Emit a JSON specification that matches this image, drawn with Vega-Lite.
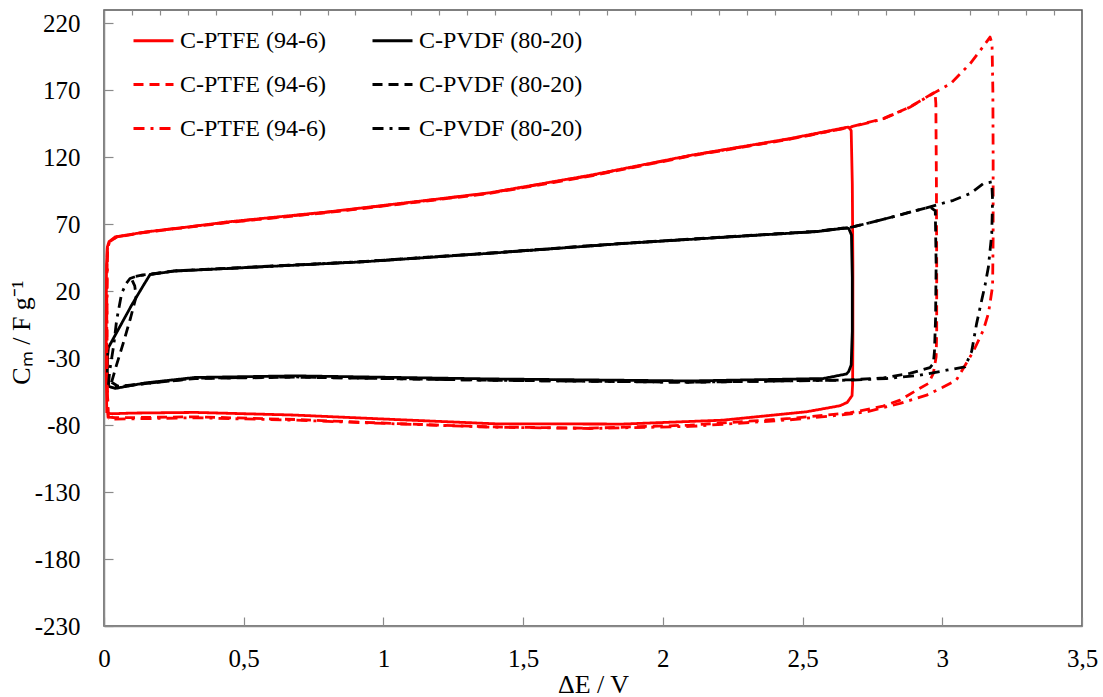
{
  "$schema": "https://vega.github.io/schema/vega-lite/v6.json",
  "autosize": {"type": "none"},
  "padding": {"left": 104, "top": 10, "right": 21, "bottom": 71},
  "width": 978,
  "height": 616,
  "config": {
    "font": "Liberation Serif, Times New Roman, serif",
    "view": {"stroke": "#555555", "strokeWidth": 1.5},
    "axis": {"grid": false, "domainColor": "#8a8a8a", "domainWidth": 1.5, "tickColor": "#8a8a8a", "tickWidth": 1.2, "labelColor": "#000000", "titleFontWeight": "normal", "titleColor": "#000000"}
  },
  "data": {"values": [
    {"s":"PTFE-2.7","i":0,"v":0.010,"c":-71},
    {"s":"PTFE-2.7","i":1,"v":0.008,"c":-40},
    {"s":"PTFE-2.7","i":2,"v":0.008,"c":0},
    {"s":"PTFE-2.7","i":3,"v":0.009,"c":40},
    {"s":"PTFE-2.7","i":4,"v":0.012,"c":53},
    {"s":"PTFE-2.7","i":5,"v":0.018,"c":57},
    {"s":"PTFE-2.7","i":6,"v":0.04,"c":60.5},
    {"s":"PTFE-2.7","i":7,"v":0.15,"c":64.3},
    {"s":"PTFE-2.7","i":8,"v":0.30,"c":68},
    {"s":"PTFE-2.7","i":9,"v":0.44,"c":71.7},
    {"s":"PTFE-2.7","i":10,"v":0.80,"c":79.2},
    {"s":"PTFE-2.7","i":11,"v":1.16,"c":88},
    {"s":"PTFE-2.7","i":12,"v":1.38,"c":93.5},
    {"s":"PTFE-2.7","i":13,"v":1.74,"c":106.6},
    {"s":"PTFE-2.7","i":14,"v":2.10,"c":121.5},
    {"s":"PTFE-2.7","i":15,"v":2.455,"c":134},
    {"s":"PTFE-2.7","i":16,"v":2.60,"c":140},
    {"s":"PTFE-2.7","i":17,"v":2.664,"c":142.6},
    {"s":"PTFE-2.7","i":18,"v":2.674,"c":140},
    {"s":"PTFE-2.7","i":19,"v":2.678,"c":100},
    {"s":"PTFE-2.7","i":20,"v":2.680,"c":40},
    {"s":"PTFE-2.7","i":21,"v":2.680,"c":-20},
    {"s":"PTFE-2.7","i":22,"v":2.679,"c":-50},
    {"s":"PTFE-2.7","i":23,"v":2.677,"c":-58},
    {"s":"PTFE-2.7","i":24,"v":2.66,"c":-63},
    {"s":"PTFE-2.7","i":25,"v":2.634,"c":-65.5},
    {"s":"PTFE-2.7","i":26,"v":2.515,"c":-70},
    {"s":"PTFE-2.7","i":27,"v":2.215,"c":-76.3},
    {"s":"PTFE-2.7","i":28,"v":1.857,"c":-79.2},
    {"s":"PTFE-2.7","i":29,"v":1.40,"c":-79},
    {"s":"PTFE-2.7","i":30,"v":1.04,"c":-75.8},
    {"s":"PTFE-2.7","i":31,"v":0.684,"c":-72.5},
    {"s":"PTFE-2.7","i":32,"v":0.326,"c":-70.5},
    {"s":"PTFE-2.7","i":33,"v":0.10,"c":-71},
    {"s":"PTFE-2.7","i":34,"v":0.03,"c":-71.5},
    {"s":"PTFE-2.7","i":35,"v":0.010,"c":-71},

    {"s":"PVDF-2.7","i":0,"v":0.016,"c":-51},
    {"s":"PVDF-2.7","i":1,"v":0.012,"c":-40},
    {"s":"PVDF-2.7","i":2,"v":0.013,"c":-28},
    {"s":"PVDF-2.7","i":3,"v":0.016,"c":-22},
    {"s":"PVDF-2.7","i":4,"v":0.05,"c":-9},
    {"s":"PVDF-2.7","i":5,"v":0.10,"c":10},
    {"s":"PVDF-2.7","i":6,"v":0.14,"c":24},
    {"s":"PVDF-2.7","i":7,"v":0.165,"c":32.5},
    {"s":"PVDF-2.7","i":8,"v":0.25,"c":35},
    {"s":"PVDF-2.7","i":9,"v":0.445,"c":37},
    {"s":"PVDF-2.7","i":10,"v":0.922,"c":41.9},
    {"s":"PVDF-2.7","i":11,"v":1.40,"c":48.6},
    {"s":"PVDF-2.7","i":12,"v":1.858,"c":55.6},
    {"s":"PVDF-2.7","i":13,"v":2.336,"c":61.8},
    {"s":"PVDF-2.7","i":14,"v":2.55,"c":64.5},
    {"s":"PVDF-2.7","i":15,"v":2.646,"c":67},
    {"s":"PVDF-2.7","i":16,"v":2.665,"c":67},
    {"s":"PVDF-2.7","i":17,"v":2.675,"c":62},
    {"s":"PVDF-2.7","i":18,"v":2.678,"c":30},
    {"s":"PVDF-2.7","i":19,"v":2.678,"c":-10},
    {"s":"PVDF-2.7","i":20,"v":2.674,"c":-35},
    {"s":"PVDF-2.7","i":21,"v":2.665,"c":-40},
    {"s":"PVDF-2.7","i":22,"v":2.657,"c":-41.8},
    {"s":"PVDF-2.7","i":23,"v":2.574,"c":-45.2},
    {"s":"PVDF-2.7","i":24,"v":2.097,"c":-47},
    {"s":"PVDF-2.7","i":25,"v":1.381,"c":-45.5},
    {"s":"PVDF-2.7","i":26,"v":0.684,"c":-43.2},
    {"s":"PVDF-2.7","i":27,"v":0.326,"c":-44.4},
    {"s":"PVDF-2.7","i":28,"v":0.147,"c":-48.5},
    {"s":"PVDF-2.7","i":29,"v":0.04,"c":-52.6},
    {"s":"PVDF-2.7","i":30,"v":0.016,"c":-51},

    {"s":"PTFE-3.0","i":0,"v":0.015,"c":-74},
    {"s":"PTFE-3.0","i":1,"v":0.010,"c":-40},
    {"s":"PTFE-3.0","i":2,"v":0.010,"c":20},
    {"s":"PTFE-3.0","i":3,"v":0.012,"c":52},
    {"s":"PTFE-3.0","i":4,"v":0.02,"c":57},
    {"s":"PTFE-3.0","i":5,"v":0.045,"c":60.5},
    {"s":"PTFE-3.0","i":6,"v":0.15,"c":64},
    {"s":"PTFE-3.0","i":7,"v":0.44,"c":71.2},
    {"s":"PTFE-3.0","i":8,"v":0.80,"c":78.7},
    {"s":"PTFE-3.0","i":9,"v":1.16,"c":87.5},
    {"s":"PTFE-3.0","i":10,"v":1.38,"c":93},
    {"s":"PTFE-3.0","i":11,"v":1.74,"c":106},
    {"s":"PTFE-3.0","i":12,"v":2.10,"c":121},
    {"s":"PTFE-3.0","i":13,"v":2.455,"c":133.5},
    {"s":"PTFE-3.0","i":14,"v":2.67,"c":142.6},
    {"s":"PTFE-3.0","i":15,"v":2.789,"c":148.9},
    {"s":"PTFE-3.0","i":16,"v":2.884,"c":157.6},
    {"s":"PTFE-3.0","i":17,"v":2.974,"c":168.7},
    {"s":"PTFE-3.0","i":18,"v":2.977,"c":160},
    {"s":"PTFE-3.0","i":19,"v":2.979,"c":100},
    {"s":"PTFE-3.0","i":20,"v":2.980,"c":40},
    {"s":"PTFE-3.0","i":21,"v":2.980,"c":-10},
    {"s":"PTFE-3.0","i":22,"v":2.978,"c":-29},
    {"s":"PTFE-3.0","i":23,"v":2.968,"c":-41.4},
    {"s":"PTFE-3.0","i":24,"v":2.95,"c":-48.9},
    {"s":"PTFE-3.0","i":25,"v":2.908,"c":-53.9},
    {"s":"PTFE-3.0","i":26,"v":2.849,"c":-61.3},
    {"s":"PTFE-3.0","i":27,"v":2.788,"c":-65.8},
    {"s":"PTFE-3.0","i":28,"v":2.67,"c":-70.8},
    {"s":"PTFE-3.0","i":29,"v":2.455,"c":-75},
    {"s":"PTFE-3.0","i":30,"v":2.097,"c":-80},
    {"s":"PTFE-3.0","i":31,"v":1.739,"c":-82.3},
    {"s":"PTFE-3.0","i":32,"v":1.381,"c":-81.3},
    {"s":"PTFE-3.0","i":33,"v":1.04,"c":-78.8},
    {"s":"PTFE-3.0","i":34,"v":0.684,"c":-75.8},
    {"s":"PTFE-3.0","i":35,"v":0.326,"c":-73.8},
    {"s":"PTFE-3.0","i":36,"v":0.04,"c":-74.5},
    {"s":"PTFE-3.0","i":37,"v":0.015,"c":-74},

    {"s":"PVDF-3.0","i":0,"v":0.027,"c":-48},
    {"s":"PVDF-3.0","i":1,"v":0.045,"c":-35},
    {"s":"PVDF-3.0","i":2,"v":0.07,"c":-18},
    {"s":"PVDF-3.0","i":3,"v":0.095,"c":0},
    {"s":"PVDF-3.0","i":4,"v":0.115,"c":16},
    {"s":"PVDF-3.0","i":5,"v":0.11,"c":24},
    {"s":"PVDF-3.0","i":6,"v":0.10,"c":28.5},
    {"s":"PVDF-3.0","i":7,"v":0.11,"c":31},
    {"s":"PVDF-3.0","i":8,"v":0.135,"c":32},
    {"s":"PVDF-3.0","i":9,"v":0.165,"c":32.7},
    {"s":"PVDF-3.0","i":10,"v":0.25,"c":35.2},
    {"s":"PVDF-3.0","i":11,"v":0.445,"c":37.2},
    {"s":"PVDF-3.0","i":12,"v":0.922,"c":42.1},
    {"s":"PVDF-3.0","i":13,"v":1.40,"c":48.8},
    {"s":"PVDF-3.0","i":14,"v":1.858,"c":55.8},
    {"s":"PVDF-3.0","i":15,"v":2.336,"c":62},
    {"s":"PVDF-3.0","i":16,"v":2.55,"c":64.7},
    {"s":"PVDF-3.0","i":17,"v":2.68,"c":68},
    {"s":"PVDF-3.0","i":18,"v":2.80,"c":74.3},
    {"s":"PVDF-3.0","i":19,"v":2.956,"c":83},
    {"s":"PVDF-3.0","i":20,"v":2.975,"c":80},
    {"s":"PVDF-3.0","i":21,"v":2.978,"c":40},
    {"s":"PVDF-3.0","i":22,"v":2.976,"c":0},
    {"s":"PVDF-3.0","i":23,"v":2.972,"c":-25},
    {"s":"PVDF-3.0","i":24,"v":2.968,"c":-34},
    {"s":"PVDF-3.0","i":25,"v":2.956,"c":-37},
    {"s":"PVDF-3.0","i":26,"v":2.884,"c":-41.4},
    {"s":"PVDF-3.0","i":27,"v":2.79,"c":-44.7},
    {"s":"PVDF-3.0","i":28,"v":2.67,"c":-46.2},
    {"s":"PVDF-3.0","i":29,"v":2.574,"c":-46.5},
    {"s":"PVDF-3.0","i":30,"v":2.097,"c":-48},
    {"s":"PVDF-3.0","i":31,"v":1.381,"c":-46.5},
    {"s":"PVDF-3.0","i":32,"v":0.684,"c":-44.2},
    {"s":"PVDF-3.0","i":33,"v":0.326,"c":-45.2},
    {"s":"PVDF-3.0","i":34,"v":0.147,"c":-49},
    {"s":"PVDF-3.0","i":35,"v":0.05,"c":-51},
    {"s":"PVDF-3.0","i":36,"v":0.027,"c":-48},

    {"s":"PTFE-3.2","i":0,"v":0.015,"c":-75},
    {"s":"PTFE-3.2","i":1,"v":0.011,"c":-40},
    {"s":"PTFE-3.2","i":2,"v":0.011,"c":20},
    {"s":"PTFE-3.2","i":3,"v":0.013,"c":52},
    {"s":"PTFE-3.2","i":4,"v":0.02,"c":57},
    {"s":"PTFE-3.2","i":5,"v":0.045,"c":60.5},
    {"s":"PTFE-3.2","i":6,"v":0.15,"c":64.2},
    {"s":"PTFE-3.2","i":7,"v":0.44,"c":71.5},
    {"s":"PTFE-3.2","i":8,"v":0.80,"c":79},
    {"s":"PTFE-3.2","i":9,"v":1.16,"c":87.8},
    {"s":"PTFE-3.2","i":10,"v":1.38,"c":93.3},
    {"s":"PTFE-3.2","i":11,"v":1.74,"c":106.3},
    {"s":"PTFE-3.2","i":12,"v":2.10,"c":121.3},
    {"s":"PTFE-3.2","i":13,"v":2.455,"c":133.8},
    {"s":"PTFE-3.2","i":14,"v":2.67,"c":142.4},
    {"s":"PTFE-3.2","i":15,"v":2.789,"c":148.7},
    {"s":"PTFE-3.2","i":16,"v":2.884,"c":157.4},
    {"s":"PTFE-3.2","i":17,"v":2.974,"c":168.5},
    {"s":"PTFE-3.2","i":18,"v":3.03,"c":175},
    {"s":"PTFE-3.2","i":19,"v":3.10,"c":190},
    {"s":"PTFE-3.2","i":20,"v":3.14,"c":201},
    {"s":"PTFE-3.2","i":21,"v":3.171,"c":209.8},
    {"s":"PTFE-3.2","i":22,"v":3.178,"c":205},
    {"s":"PTFE-3.2","i":23,"v":3.181,"c":170},
    {"s":"PTFE-3.2","i":24,"v":3.182,"c":120},
    {"s":"PTFE-3.2","i":25,"v":3.182,"c":60},
    {"s":"PTFE-3.2","i":26,"v":3.18,"c":23.7},
    {"s":"PTFE-3.2","i":27,"v":3.165,"c":3.3},
    {"s":"PTFE-3.2","i":28,"v":3.147,"c":-9},
    {"s":"PTFE-3.2","i":29,"v":3.111,"c":-25},
    {"s":"PTFE-3.2","i":30,"v":3.05,"c":-46.4},
    {"s":"PTFE-3.2","i":31,"v":3.0,"c":-51.9},
    {"s":"PTFE-3.2","i":32,"v":2.944,"c":-57.6},
    {"s":"PTFE-3.2","i":33,"v":2.849,"c":-63.8},
    {"s":"PTFE-3.2","i":34,"v":2.73,"c":-70},
    {"s":"PTFE-3.2","i":35,"v":2.634,"c":-72.5},
    {"s":"PTFE-3.2","i":36,"v":2.455,"c":-76},
    {"s":"PTFE-3.2","i":37,"v":2.097,"c":-81},
    {"s":"PTFE-3.2","i":38,"v":1.739,"c":-82.5},
    {"s":"PTFE-3.2","i":39,"v":1.381,"c":-81.5},
    {"s":"PTFE-3.2","i":40,"v":1.04,"c":-79},
    {"s":"PTFE-3.2","i":41,"v":0.684,"c":-76.3},
    {"s":"PTFE-3.2","i":42,"v":0.326,"c":-74.5},
    {"s":"PTFE-3.2","i":43,"v":0.04,"c":-75.5},
    {"s":"PTFE-3.2","i":44,"v":0.015,"c":-75},

    {"s":"PVDF-3.2","i":0,"v":0.016,"c":-50},
    {"s":"PVDF-3.2","i":1,"v":0.02,"c":-40},
    {"s":"PVDF-3.2","i":2,"v":0.035,"c":-20},
    {"s":"PVDF-3.2","i":3,"v":0.045,"c":-2},
    {"s":"PVDF-3.2","i":4,"v":0.063,"c":18.3},
    {"s":"PVDF-3.2","i":5,"v":0.08,"c":26},
    {"s":"PVDF-3.2","i":6,"v":0.093,"c":29.5},
    {"s":"PVDF-3.2","i":7,"v":0.12,"c":31.5},
    {"s":"PVDF-3.2","i":8,"v":0.14,"c":32},
    {"s":"PVDF-3.2","i":9,"v":0.165,"c":32.6},
    {"s":"PVDF-3.2","i":10,"v":0.25,"c":35.1},
    {"s":"PVDF-3.2","i":11,"v":0.445,"c":37.1},
    {"s":"PVDF-3.2","i":12,"v":0.922,"c":42},
    {"s":"PVDF-3.2","i":13,"v":1.40,"c":48.7},
    {"s":"PVDF-3.2","i":14,"v":1.858,"c":55.7},
    {"s":"PVDF-3.2","i":15,"v":2.336,"c":61.9},
    {"s":"PVDF-3.2","i":16,"v":2.55,"c":64.6},
    {"s":"PVDF-3.2","i":17,"v":2.68,"c":68},
    {"s":"PVDF-3.2","i":18,"v":2.80,"c":74.3},
    {"s":"PVDF-3.2","i":19,"v":2.956,"c":83},
    {"s":"PVDF-3.2","i":20,"v":3.04,"c":87.9},
    {"s":"PVDF-3.2","i":21,"v":3.10,"c":93},
    {"s":"PVDF-3.2","i":22,"v":3.147,"c":100.4},
    {"s":"PVDF-3.2","i":23,"v":3.177,"c":101.6},
    {"s":"PVDF-3.2","i":24,"v":3.18,"c":88},
    {"s":"PVDF-3.2","i":25,"v":3.177,"c":63},
    {"s":"PVDF-3.2","i":26,"v":3.165,"c":38},
    {"s":"PVDF-3.2","i":27,"v":3.153,"c":24.5},
    {"s":"PVDF-3.2","i":28,"v":3.141,"c":13.3},
    {"s":"PVDF-3.2","i":29,"v":3.123,"c":-4},
    {"s":"PVDF-3.2","i":30,"v":3.105,"c":-25},
    {"s":"PVDF-3.2","i":31,"v":3.081,"c":-36.5},
    {"s":"PVDF-3.2","i":32,"v":3.015,"c":-39},
    {"s":"PVDF-3.2","i":33,"v":2.92,"c":-42.7},
    {"s":"PVDF-3.2","i":34,"v":2.80,"c":-45.2},
    {"s":"PVDF-3.2","i":35,"v":2.68,"c":-46.4},
    {"s":"PVDF-3.2","i":36,"v":2.574,"c":-46.6},
    {"s":"PVDF-3.2","i":37,"v":2.097,"c":-48},
    {"s":"PVDF-3.2","i":38,"v":1.381,"c":-46.5},
    {"s":"PVDF-3.2","i":39,"v":0.684,"c":-44},
    {"s":"PVDF-3.2","i":40,"v":0.326,"c":-45},
    {"s":"PVDF-3.2","i":41,"v":0.147,"c":-49},
    {"s":"PVDF-3.2","i":42,"v":0.05,"c":-51.5},
    {"s":"PVDF-3.2","i":43,"v":0.016,"c":-50}
  ]},
  "layer": [
    {
      "mark": {"type": "line", "strokeWidth": 2.8, "strokeCap": "butt", "strokeJoin": "round"},
      "encoding": {
        "x": {"field": "v", "type": "quantitative", "scale": {"domain": [0, 3.5], "nice": false, "zero": false},
          "axis": {"values": [0, 0.5, 1, 1.5, 2, 2.5, 3, 3.5], "labelExpr": "replace(format(datum.value, '.1~f'), '.', ',')", "labelFont": "Liberation Serif", "labelFontSize": 25, "tickSize": -9, "labelPadding": 29, "labelFlush": false, "title": "ΔE / V", "titleFont": "Liberation Serif", "titleFontSize": 26, "titlePadding": 0}},
        "y": {"field": "c", "type": "quantitative", "scale": {"domain": [-230, 230], "nice": false, "zero": false},
          "axis": {"values": [-230, -180, -130, -80, -30, 20, 70, 120, 170, 220], "labelExpr": "'' + datum.value", "labelFont": "Liberation Serif", "labelFontSize": 25, "tickSize": -9, "labelPadding": 33, "title": "Cₘ / F g⁻¹", "titleFont": "Liberation Serif", "titleFontSize": 26, "titlePadding": 0, "titleY": 322}},
        "order": {"field": "i", "type": "quantitative"},
        "color": {"field": "s", "type": "nominal",
          "scale": {"domain": ["PTFE-2.7", "PTFE-3.0", "PTFE-3.2", "PVDF-2.7", "PVDF-3.0", "PVDF-3.2"], "range": ["#ff0000", "#ff0000", "#ff0000", "#000000", "#000000", "#000000"]},
          "legend": {"orient": "none", "legendX": 28, "legendY": 9, "columns": 2, "columnPadding": 40, "rowPadding": 10, "padding": 0, "title": null,
            "symbolType": "stroke", "symbolSize": 1600, "symbolStrokeWidth": 3, "labelFontSize": 24, "labelFont": "Liberation Serif", "labelColor": "#000000", "labelOffset": 5, "labelLimit": 300,
            "labelExpr": "indexof(datum.value, 'PTFE') >= 0 ? 'C-PTFE (94-6)' : 'C-PVDF (80-20)'"}},
        "strokeDash": {"field": "s", "type": "nominal",
          "scale": {"domain": ["PTFE-2.7", "PTFE-3.0", "PTFE-3.2", "PVDF-2.7", "PVDF-3.0", "PVDF-3.2"], "range": [[1, 0], [10, 6], [11, 6, 3, 6], [1, 0], [10, 6], [11, 6, 3, 6]]}}
      }
    },
    {
      "mark": {"type": "line", "strokeOpacity": 0},
      "encoding": {
        "x": {"field": "v", "type": "quantitative",
          "axis": {"values": [0.1, 0.2, 0.3, 0.4, 0.6, 0.7, 0.8, 0.9, 1.1, 1.2, 1.3, 1.4, 1.6, 1.7, 1.8, 1.9, 2.1, 2.2, 2.3, 2.4, 2.6, 2.7, 2.8, 2.9, 3.1, 3.2, 3.3, 3.4], "labels": false, "domain": false, "tickSize": -5, "title": null}},
        "y": {"field": "c", "type": "quantitative"},
        "detail": {"field": "s"},
        "order": {"field": "i", "type": "quantitative"}
      }
    }
  ],
  "resolve": {"axis": {"x": "independent"}}
}
